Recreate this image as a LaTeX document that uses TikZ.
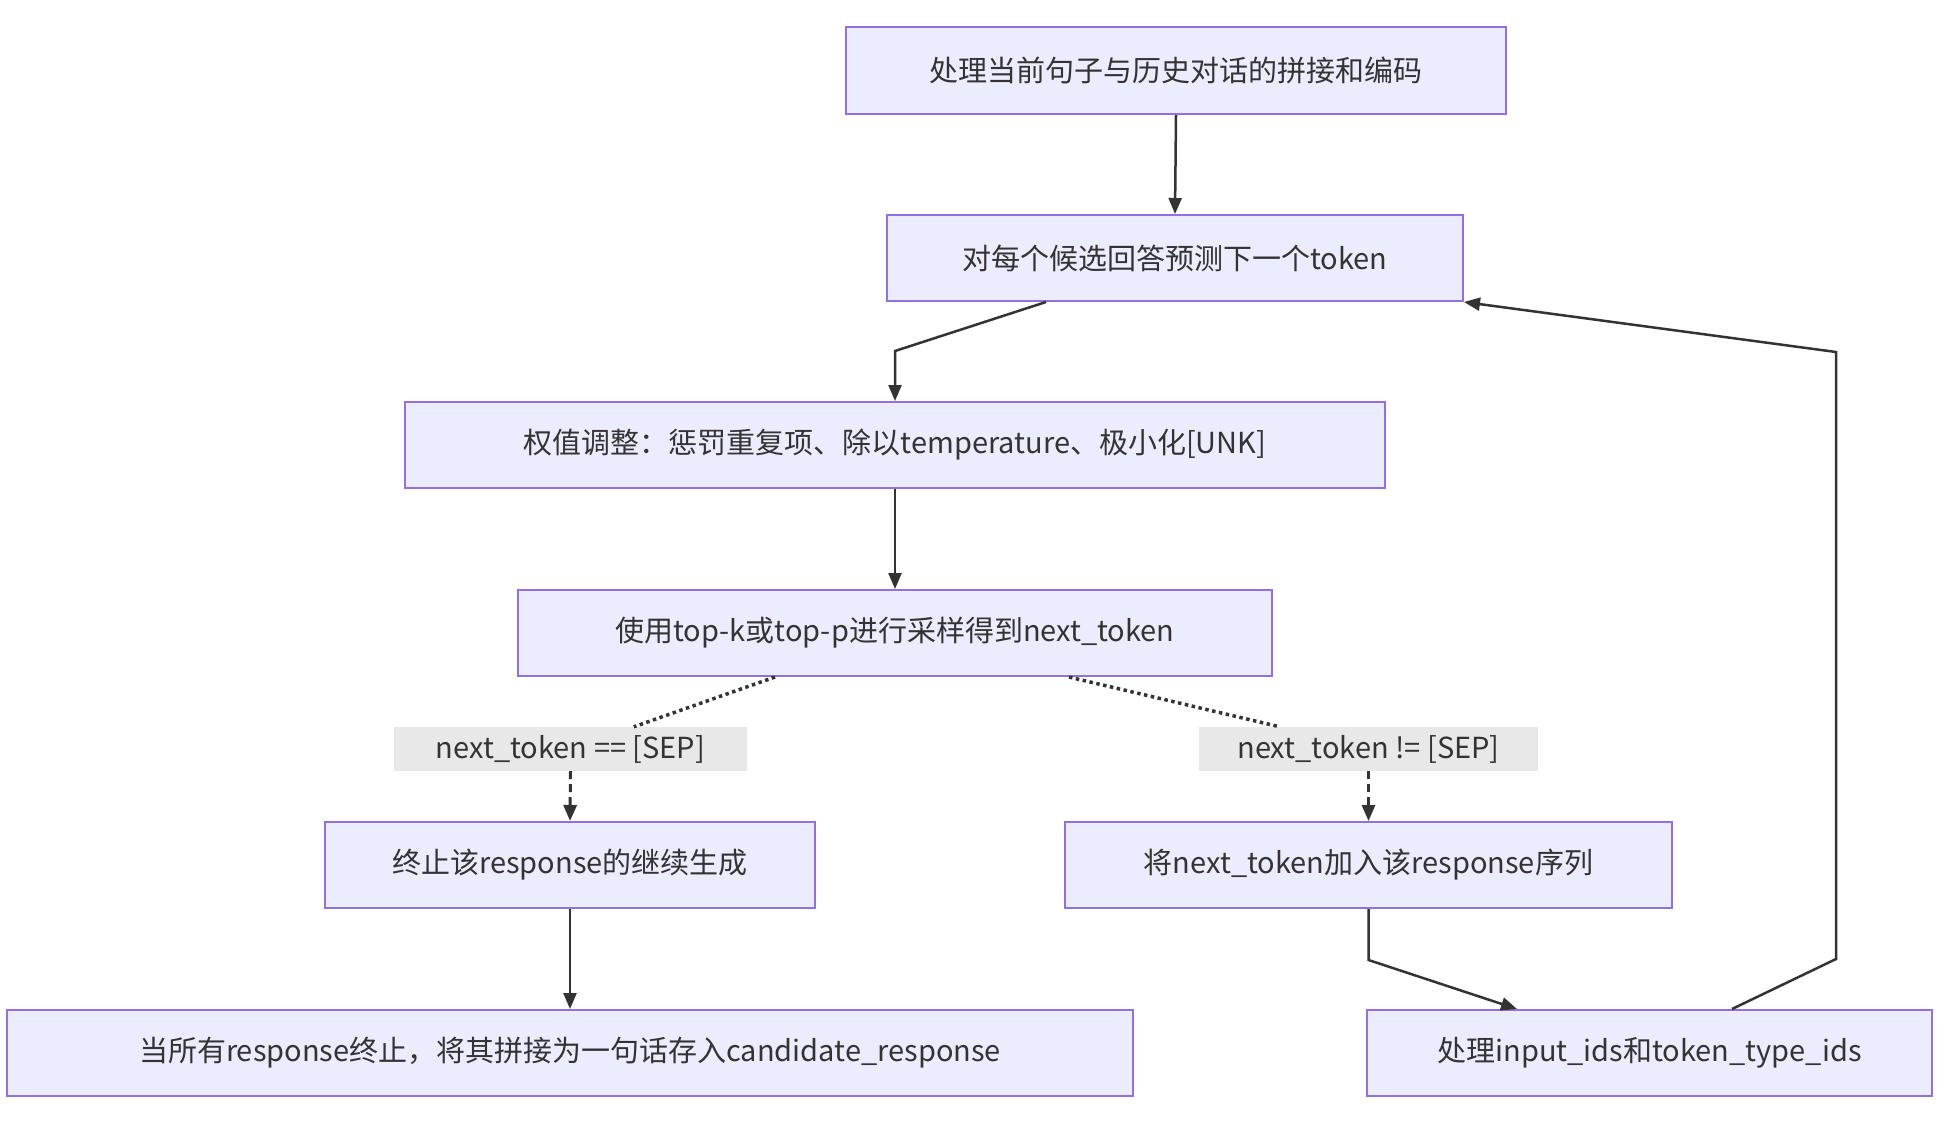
\documentclass[tikz,border=0pt]{standalone}
\usepackage{fontspec}
\setmainfont{Noto Sans CJK SC}
\usetikzlibrary{arrows.meta}
\definecolor{boxfill}{HTML}{ECECFF}
\definecolor{boxdraw}{HTML}{9370DB}
\definecolor{txt}{HTML}{333333}
\definecolor{lblbg}{HTML}{E8E8E8}
\tikzset{
  flowbox/.style={draw=boxdraw, fill=boxfill, line width=2pt, inner sep=0pt, text=txt, font=\fontsize{29}{34}\selectfont},
  lbl/.style={fill=lblbg, inner sep=0pt, text=txt, font=\fontsize{29}{34}\selectfont},
  arr/.style={draw=txt, line width=2.5pt, -{Triangle[length=16pt,width=13pt]}},
  dotline/.style={draw=txt, line width=3.5pt, dash pattern=on 3.5pt off 3.5pt},
  dashline/.style={draw=txt, line width=3pt, dash pattern=on 8pt off 5pt, -{Triangle[length=16pt,width=13pt]}},
}
\begin{document}
\begin{tikzpicture}[x=1pt,y=-1pt]
\useasboundingbox[fill=white] (0,0) rectangle (1948,1130);
\node[flowbox, minimum width=660pt, minimum height=87pt] (n1) at (1176,70.5) {处理当前句子与历史对话的拼接和编码};
\node[flowbox, minimum width=576pt, minimum height=86pt] (n2) at (1175,258) {对每个候选回答预测下一个token};
\node[flowbox, minimum width=980pt, minimum height=86pt] (n3) at (895,445) {权值调整：惩罚重复项、除以temperature、极小化[UNK]};
\node[flowbox, minimum width=754pt, minimum height=86pt] (n4) at (895,633) {使用top-k或top-p进行采样得到next\_token};
\node[lbl, minimum width=353pt, minimum height=44pt] (l1) at (570.5,749) {next\_token == [SEP]};
\node[lbl, minimum width=339pt, minimum height=44pt] (l2) at (1368.5,749) {next\_token != [SEP]};
\node[flowbox, minimum width=490pt, minimum height=86pt] (n5) at (570,865) {终止该response的继续生成};
\node[flowbox, minimum width=607pt, minimum height=86pt] (n6) at (1368.5,865) {将next\_token加入该response序列};
\node[flowbox, minimum width=1126pt, minimum height=86pt] (n7) at (570,1053) {当所有response终止，将其拼接为一句话存入candidate\_response};
\node[flowbox, minimum width=565pt, minimum height=86pt] (n8) at (1649.5,1053) {处理input\_ids和token\_type\_ids};
\coordinate (c1) at (1836,959);
\coordinate (c2) at (1836,352);

\draw[arr] (n1.south) -- (n2.north);
\draw[arr] ([xshift=160pt]n2.south west) -- ([yshift=50pt]n3.north) -- (n3.north);
\draw[arr] (n3.south) -- (n4.north);
\draw[dotline] ([xshift=258pt]n4.south west) -- ([xshift=240pt]l1.north west);
\draw[dotline] ([xshift=-204pt]n4.south east) -- ([xshift=81pt]l2.north west);
\draw[dashline] (l1.south) -- (n5.north);
\draw[dashline] (l2.south) -- (n6.north);
\draw[arr] (n5.south) -- (n7.north);
\draw[arr] (n6.south) -- ([yshift=-51pt]n6.south) -- ([xshift=151pt]n8.north west);
\draw[arr] ([xshift=366pt]n8.north west) -- (c1) -- (c2) -- (n2.south east);
\end{tikzpicture}
\end{document}
